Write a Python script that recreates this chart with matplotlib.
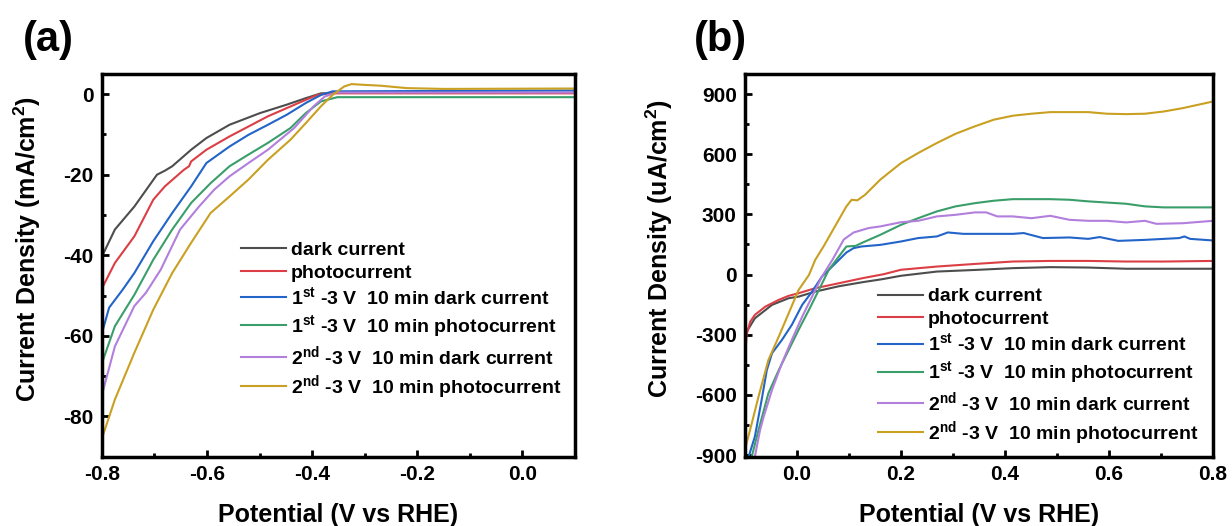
import matplotlib
matplotlib.use("Agg")
import matplotlib.pyplot as plt
from matplotlib.ticker import MultipleLocator, FormatStrFormatter

plt.rcParams["font.family"] = ["Liberation Sans", "DejaVu Sans"]
plt.rcParams["font.weight"] = "bold"
plt.rcParams["axes.labelweight"] = "bold"
plt.rcParams["axes.unicode_minus"] = False
plt.rcParams["mathtext.fontset"] = "custom"
plt.rcParams["mathtext.rm"] = "Liberation Sans:bold"
plt.rcParams["mathtext.bf"] = "Liberation Sans:bold"
plt.rcParams["mathtext.it"] = "Liberation Sans:bold"
plt.rcParams["mathtext.default"] = "rm"

# ---- data: panel (a), mA/cm2 ----
dark_a_x = [-0.800, -0.775, -0.738, -0.695, -0.680, -0.666, -0.630, -0.601, -0.557, -0.499,
            -0.448, -0.412, -0.383, -0.350, 0.100]
dark_a_y = [-40.4, -33.6, -27.9, -20.0, -19.0, -17.9, -13.8, -10.9, -7.6, -4.7,
            -2.6, -1.0, 0.2, 0.3, 0.3]

photo_a_x = [-0.800, -0.775, -0.738, -0.702, -0.680, -0.644, -0.634, -0.630, -0.601, -0.557,
             -0.484, -0.426, -0.390, -0.368, 0.100]
photo_a_y = [-48.3, -41.9, -35.3, -26.2, -22.9, -18.8, -17.9, -16.7, -13.8, -10.5,
             -5.5, -2.2, -0.2, 0.2, 0.2]

dark1_a_x = [-0.800, -0.786, -0.760, -0.738, -0.702, -0.666, -0.630, -0.601, -0.557, -0.521,
             -0.484, -0.448, -0.412, -0.383, -0.361, 0.100]
dark1_a_y = [-59.5, -53.0, -48.5, -44.4, -36.5, -29.5, -22.9, -17.1, -13.0, -10.1,
             -7.6, -5.1, -2.2, -0.2, 0.7, 0.9]

photo1_a_x = [-0.800, -0.775, -0.738, -0.702, -0.666, -0.630, -0.593, -0.557, -0.521, -0.484,
              -0.441, -0.412, -0.383, -0.352, 0.100]
photo1_a_y = [-66.9, -57.6, -49.8, -41.1, -33.6, -27.0, -22.1, -17.9, -15.0, -12.1,
              -8.4, -4.7, -1.8, -0.75, -0.75]

dark2_a_x = [-0.800, -0.775, -0.738, -0.716, -0.688, -0.651, -0.615, -0.586, -0.557, -0.521,
             -0.484, -0.434, -0.397, -0.376, -0.354, 0.100]
dark2_a_y = [-74.8, -62.6, -52.6, -49.3, -43.6, -33.6, -27.9, -23.7, -20.4, -17.1,
             -13.8, -8.4, -3.0, -0.6, 0.4, 0.4]

photo2_a_x = [-0.800, -0.775, -0.738, -0.702, -0.666, -0.630, -0.593, -0.557, -0.521, -0.484,
              -0.441, -0.412, -0.383, -0.361, -0.339, -0.325, -0.300, -0.270, -0.220, -0.150, 0.100]
photo2_a_y = [-85.6, -75.8, -64.2, -53.5, -44.4, -36.9, -29.5, -25.4, -21.2, -16.3,
              -11.3, -7.2, -3.0, -0.2, 1.9, 2.5, 2.3, 2.1, 1.5, 1.3, 1.4]

# ---- data: panel (b), uA/cm2 ----
dark_b_x = [-0.099, -0.081, -0.048, -0.016, 0.003, 0.035, 0.081, 0.126, 0.164, 0.200,
            0.269, 0.342, 0.415, 0.487, 0.560, 0.633, 0.705, 0.800]
dark_b_y = [-295, -218, -151, -118, -110, -85, -58, -38, -23, -6,
            15, 23, 32, 37, 35, 29, 29, 29]

photo_b_x = [-0.099, -0.097, -0.090, -0.081, -0.061, -0.035, -0.016, 0.003, 0.035, 0.081,
             0.126, 0.167, 0.200, 0.269, 0.342, 0.415, 0.487, 0.560, 0.633, 0.705, 0.800]
photo_b_y = [-392, -301, -235, -201, -160, -126, -106, -93, -68, -43,
             -18, 2, 24, 40, 53, 65, 68, 68, 65, 65, 68]

dark1_b_x = [-0.093, -0.081, -0.068, -0.058, -0.048, -0.029, -0.010, 0.010, 0.029, 0.048,
             0.061, 0.095, 0.109, 0.124, 0.160, 0.200, 0.233, 0.269, 0.290, 0.320,
             0.415, 0.436, 0.473, 0.524, 0.560, 0.582, 0.618, 0.669, 0.735, 0.745, 0.756, 0.800]
dark1_b_y = [-908, -808, -625, -476, -392, -326, -251, -151, -85, -10,
             23, 110, 132, 140, 148, 165, 182, 190, 210, 203,
             203, 207, 182, 185, 178, 187, 168, 173, 182, 190, 178, 170]

photo1_b_x = [-0.087, -0.074, -0.055, -0.035, -0.016, 0.003, 0.023, 0.042, 0.061, 0.095,
              0.113, 0.124, 0.160, 0.200, 0.233, 0.269, 0.305, 0.342, 0.378, 0.415,
              0.487, 0.524, 0.560, 0.633, 0.669, 0.705, 0.800]
photo1_b_y = [-908, -775, -592, -476, -376, -276, -176, -77, 23, 140,
              143, 157, 198, 248, 281, 315, 340, 356, 368, 376,
              376, 373, 365, 353, 340, 335, 335]

dark2_b_x = [-0.081, -0.071, -0.064, -0.048, -0.029, -0.010, 0.010, 0.029, 0.048, 0.068,
             0.090, 0.109, 0.138, 0.160, 0.200, 0.233, 0.269, 0.305, 0.342, 0.364,
             0.385, 0.415, 0.451, 0.487, 0.524, 0.560, 0.596, 0.633, 0.669, 0.691, 0.742, 0.800]
dark2_b_y = [-908, -775, -708, -575, -442, -326, -210, -110, -10, 73,
             175, 210, 232, 240, 261, 268, 290, 298, 310, 310,
             290, 290, 281, 293, 273, 268, 268, 260, 268, 253, 256, 268]

photo2_b_x = [-0.100, -0.097, -0.087, -0.074, -0.055, -0.035, -0.016, 0.003, 0.023, 0.035,
              0.051, 0.073, 0.095, 0.105, 0.116, 0.131, 0.160, 0.200, 0.233, 0.269,
              0.305, 0.342, 0.378, 0.415, 0.451, 0.487, 0.560, 0.596, 0.633, 0.669,
              0.705, 0.742, 0.800]
photo2_b_y = [-880, -842, -742, -609, -426, -309, -193, -77, -2, 73,
              140, 240, 340, 373, 370, 398, 473, 556, 606, 656,
              702, 739, 772, 792, 802, 810, 810, 802, 800, 802,
              813, 830, 863]

labels = ["dark current",
          "photocurrent",
          "1$^{st}$ -3 V  10 min dark current",
          "1$^{st}$ -3 V  10 min photocurrent",
          "2$^{nd}$ -3 V  10 min dark current",
          "2$^{nd}$ -3 V  10 min photocurrent"]
colors = ["#4d4d4d", "#db3f45", "#2364c8", "#3a9e6a", "#b27fdc", "#c9a021"]

series_a = [(dark_a_x, dark_a_y), (photo_a_x, photo_a_y), (dark1_a_x, dark1_a_y),
            (photo1_a_x, photo1_a_y), (dark2_a_x, dark2_a_y), (photo2_a_x, photo2_a_y)]
series_b = [(dark_b_x, dark_b_y), (photo_b_x, photo_b_y), (dark1_b_x, dark1_b_y),
            (photo1_b_x, photo1_b_y), (dark2_b_x, dark2_b_y), (photo2_b_x, photo2_b_y)]


def style_axes(ax):
    for sp in ax.spines.values():
        sp.set_linewidth(2.5)
    ax.tick_params(which="both", direction="in", top=False, right=False,
                   labelsize=15, width=2, pad=6)
    ax.tick_params(which="major", length=5)
    ax.tick_params(which="minor", length=3)
    for t in ax.get_xticklabels() + ax.get_yticklabels():
        t.set_fontweight("bold")


def add_legend(ax, anchor):
    ax.legend(loc="upper left", bbox_to_anchor=anchor, bbox_transform=fig.transFigure,
              frameon=False, fontsize=14, handlelength=2.3, handletextpad=0.25,
              labelspacing=0.25, borderpad=0, borderaxespad=0)


fig = plt.figure(figsize=(12.32, 5.26), dpi=100)
ax1 = fig.add_axes([0.0826, 0.1318, 0.3841, 0.7275])
ax2 = fig.add_axes([0.6047, 0.1318, 0.3799, 0.7275])

for (x, y), c, lab in zip(series_a, colors, labels):
    ax1.plot(x, y, color=c, lw=1.5, label=lab)
ax1.set_xlim(-0.8, 0.1)
ax1.set_ylim(-90, 5)
ax1.xaxis.set_major_locator(MultipleLocator(0.2))
ax1.xaxis.set_minor_locator(MultipleLocator(0.1))
ax1.yaxis.set_major_locator(MultipleLocator(20))
ax1.yaxis.set_minor_locator(MultipleLocator(10))
ax1.xaxis.set_major_formatter(FormatStrFormatter("%.1f"))
style_axes(ax1)
ax1.set_xlabel("Potential (V vs RHE)", fontsize=18, labelpad=14)
ax1.set_ylabel("Current Density (mA/cm$^2$)", fontsize=18)
ax1.yaxis.set_label_coords(-0.125, 0.542)
add_legend(ax1, (0.196, 0.541))

for (x, y), c, lab in zip(series_b, colors, labels):
    ax2.plot(x, y, color=c, lw=1.5, label=lab)
ax2.set_xlim(-0.1, 0.8)
ax2.set_ylim(-908, 1000)
ax2.xaxis.set_major_locator(MultipleLocator(0.2))
ax2.xaxis.set_minor_locator(MultipleLocator(0.1))
ax2.yaxis.set_major_locator(MultipleLocator(300))
ax2.yaxis.set_minor_locator(MultipleLocator(150))
ax2.xaxis.set_major_formatter(FormatStrFormatter("%.1f"))
style_axes(ax2)
ax2.set_xlabel("Potential (V vs RHE)", fontsize=18, labelpad=14)
ax2.set_ylabel("Current Density (uA/cm$^2$)", fontsize=18)
ax2.yaxis.set_label_coords(-0.149, 0.545)
add_legend(ax2, (0.7127, 0.453))

fig.text(0.039, 0.924, "(a)", fontsize=30, fontweight="bold", ha="center", va="center")
fig.text(0.585, 0.924, "(b)", fontsize=30, fontweight="bold", ha="center", va="center")

fig.savefig("out.png", dpi=100)
